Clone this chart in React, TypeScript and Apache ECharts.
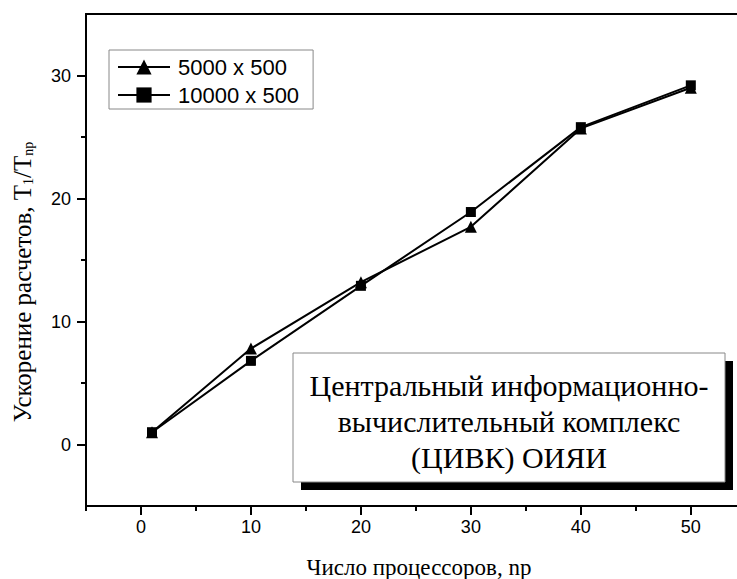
import React, { useEffect, useRef } from "react";
import * as echarts from "echarts";

const processors = [1, 10, 20, 30, 40, 50];
const speedup5000 = [1.0, 7.8, 13.2, 17.7, 25.7, 29.0];
const speedup10000 = [1.0, 6.8, 12.9, 18.9, 25.8, 29.2];
const seriesNames = ["5000 x 500", "10000 x 500"];
const xMajorTicks = [0, 10, 20, 30, 40, 50];
const xMinorTicks = [-5, 5, 15, 25, 35, 45];
const yMajorTicks = [0, 10, 20, 30];
const yMinorTicks = [5, 15, 25];
const boxLines = [
  "Центральный информационно-",
  "вычислительный комплекс",
  "(ЦИВК) ОИЯИ",
];

const SANS = "Liberation Sans, Arial, sans-serif";
const SERIF = "Liberation Serif, Times New Roman, serif";

export default function App() {
  const ref = useRef<HTMLDivElement>(null);

  useEffect(() => {
    if (!ref.current) return;
    const chart = echarts.init(ref.current, null, { renderer: "svg" });

    const axisLine = { show: true, onZero: false, lineStyle: { color: "#000", width: 2 } };
    const xBase = {
      type: "value",
      min: -5,
      max: 54.2,
      interval: 5,
      splitLine: { show: false },
      axisLine,
    };
    const yBase = {
      type: "value",
      min: -5,
      max: 35,
      interval: 5,
      splitLine: { show: false },
      axisLine,
    };

    const option: any = {
      animation: false,
      backgroundColor: "#fff",
      grid: { left: 86, top: 14, right: 0, bottom: 73, containLabel: false },
      xAxis: [
        {
          ...xBase,
          position: "bottom",
          axisTick: {
            show: true,
            customValues: xMajorTicks,
            length: 9,
            lineStyle: { color: "#000", width: 2 },
          },
          axisLabel: {
            show: true,
            customValues: xMajorTicks,
            color: "#000",
            fontSize: 18,
            fontFamily: SANS,
            margin: 12,
          },
        },
        {
          ...xBase,
          position: "bottom",
          axisTick: {
            show: true,
            customValues: xMinorTicks,
            length: 5,
            lineStyle: { color: "#000", width: 2 },
          },
          axisLabel: { show: false },
        },
        {
          ...xBase,
          position: "top",
          axisTick: { show: false },
          axisLabel: { show: false },
        },
      ],
      yAxis: [
        {
          ...yBase,
          position: "left",
          axisTick: {
            show: true,
            customValues: yMajorTicks,
            length: 9,
            lineStyle: { color: "#000", width: 2 },
          },
          axisLabel: {
            show: true,
            customValues: yMajorTicks,
            color: "#000",
            fontSize: 18,
            fontFamily: SANS,
            margin: 15,
          },
        },
        {
          ...yBase,
          position: "left",
          axisTick: {
            show: true,
            customValues: yMinorTicks,
            length: 5,
            lineStyle: { color: "#000", width: 2 },
          },
          axisLabel: { show: false },
        },
      ],
      legend: {
        orient: "vertical",
        left: 109,
        top: 50,
        borderColor: "#888",
        borderWidth: 1,
        padding: [6, 14, 3, 8],
        itemGap: 6,
        itemWidth: 52,
        itemHeight: 19,
        textStyle: {
          color: "#000",
          fontSize: 22,
          fontFamily: SANS,
          lineHeight: 22,
          padding: [0, 0, 0, 3],
        },
        data: seriesNames,
      },
      series: [
        {
          name: seriesNames[0],
          type: "line",
          xAxisIndex: 0,
          yAxisIndex: 0,
          data: processors.map((p, i) => [p, speedup5000[i]]),
          symbol: "triangle",
          symbolSize: 12,
          itemStyle: { color: "#000" },
          lineStyle: { color: "#000", width: 2 },
          z: 3,
        },
        {
          name: seriesNames[1],
          type: "line",
          xAxisIndex: 0,
          yAxisIndex: 0,
          data: processors.map((p, i) => [p, speedup10000[i]]),
          symbol: "rect",
          symbolSize: 10,
          itemStyle: { color: "#000" },
          lineStyle: { color: "#000", width: 2 },
          z: 4,
        },
      ],
      graphic: [
        {
          type: "rect",
          shape: { x: 301, y: 361, width: 432, height: 129 },
          style: { fill: "#000" },
          z: 100,
        },
        {
          type: "rect",
          shape: { x: 293, y: 353, width: 432, height: 129 },
          style: { fill: "#fff", stroke: "#888", lineWidth: 1 },
          z: 101,
        },
        ...boxLines.map((t, i) => ({
          type: "text",
          x: 509,
          y: 385 + i * 36,
          z: 102,
          style: {
            text: t,
            fill: "#000",
            font: `30px ${SERIF}`,
            textAlign: "center",
            textVerticalAlign: "middle",
          },
        })),
        {
          type: "text",
          x: 419,
          y: 567,
          style: {
            text: "Число процессоров, np",
            fill: "#000",
            font: `23px ${SERIF}`,
            textAlign: "center",
            textVerticalAlign: "middle",
          },
        },
        {
          type: "text",
          x: 22,
          y: 282,
          rotation: Math.PI / 2,
          style: {
            text: "{a|Ускорение расчетов, T}{s|1}{a|/T}{s|np}",
            fill: "#000",
            textAlign: "center",
            textVerticalAlign: "middle",
            rich: {
              a: { fontSize: 25, fontFamily: SERIF, lineHeight: 26, fill: "#000" },
              s: {
                fontSize: 14,
                fontFamily: SERIF,
                lineHeight: 26,
                verticalAlign: "bottom",
                fill: "#000",
              },
            },
          },
        },
      ],
    };

    chart.setOption(option);
    return () => chart.dispose();
  }, []);

  return (
    <div
      ref={ref}
      style={{ position: "fixed", left: 0, top: 0, width: 737, height: 579 }}
    />
  );
}
